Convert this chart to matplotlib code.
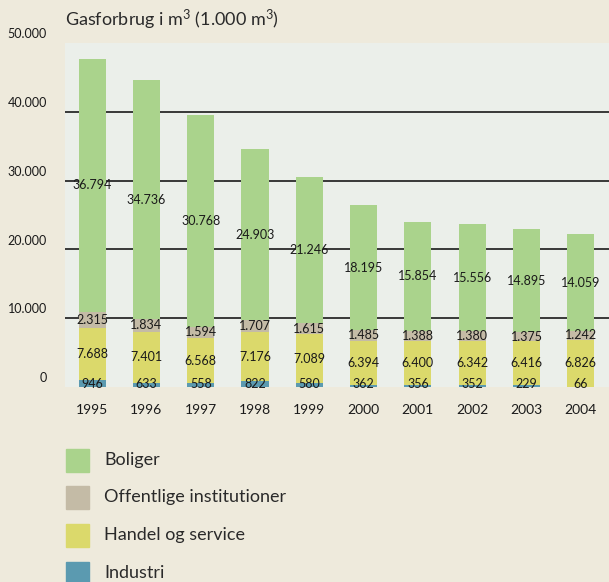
import matplotlib.pyplot as plt
from matplotlib.patches import Rectangle
import numpy as np

plt.rcParams['font.family'] = ['Lato', 'DejaVu Sans']
plt.rcParams['mathtext.fontset'] = 'custom'
plt.rcParams['mathtext.rm'] = 'Lato'
plt.rcParams['mathtext.it'] = 'Lato'
plt.rcParams['mathtext.default'] = 'rm'

years = ['1995', '1996', '1997', '1998', '1999', '2000', '2001', '2002', '2003', '2004']
industri = [946, 633, 558, 822, 580, 362, 356, 352, 229, 66]
handel = [7688, 7401, 6568, 7176, 7089, 6394, 6400, 6342, 6416, 6826]
offentlige = [2315, 1834, 1594, 1707, 1615, 1485, 1388, 1380, 1375, 1242]
boliger = [36794, 34736, 30768, 24903, 21246, 18195, 15854, 15556, 14895, 14059]

series_names = ['Industri', 'Handel og service', 'Offentlige institutioner', 'Boliger']
colors = ['#5b9ab0', '#dbd96b', '#c4bba6', '#aad38c']
yticks = [0, 10000, 20000, 30000, 40000, 50000]

W, H = 609, 582
fig = plt.figure(figsize=(W / 100, H / 100), dpi=100, facecolor='#eeeadc')
ax = fig.add_axes([65 / W, 1 - 387 / H, 1 - 65 / W, 344 / H])
ax.set_facecolor('#ebefea')


def fmt(v):
    return '{:,}'.format(v).replace(',', '.')


x = np.arange(len(years))
data = [industri, handel, offentlige, boliger]
bottom = np.zeros(len(years))
for k, vals in enumerate(data):
    vals = np.array(vals)
    ax.bar(x, vals, 0.5, bottom=bottom, color=colors[k], zorder=2)
    for i in range(len(years)):
        if k == 0:
            ypos = 500
        else:
            ypos = bottom[i] + vals[i] / 2
        ax.text(x[i], ypos, fmt(int(vals[i])), ha='center', va='center',
                fontsize=9, color='#1a1a1a', zorder=3)
    bottom = bottom + vals

for t in yticks[1:-1]:
    ax.axhline(t, color='#1a1a1a', lw=1.2, zorder=1)

ax.set_xlim(-0.5, 9.52)
ax.set_ylim(0, 50000)
ax.set_xticks([])
ax.set_yticks([])
for s in ax.spines.values():
    s.set_visible(False)

# y tick labels sit just above their grid lines
for t in yticks:
    ax.text(-0.033, t + 400, fmt(t), transform=ax.get_yaxis_transform(),
            ha='right', va='bottom', fontsize=9, color='#1a1a1a')

for i, yr in enumerate(years):
    ax.text(x[i], -3400, yr, ha='center', va='center', fontsize=10, color='#1a1a1a')

fig.text(65 / W, 1 - 20 / H, r'Gasforbrug i m$^3$ (1.000 m$^3$)', ha='left', va='center',
         fontsize=13, color='#2a2a2a')

# legend, top entry = Boliger
leg_y = [460, 497, 535, 573]
for j, k in enumerate([3, 2, 1, 0]):
    yc = leg_y[j]
    fig.add_artist(Rectangle((66 / W, 1 - (yc + 11.5) / H), 23 / W, 23 / H,
                             transform=fig.transFigure, color=colors[k]))
    fig.text(104 / W, 1 - yc / H, series_names[k], ha='left', va='center',
             fontsize=13, color='#2a2a2a')

fig.savefig('out.png', dpi=100, facecolor=fig.get_facecolor())
